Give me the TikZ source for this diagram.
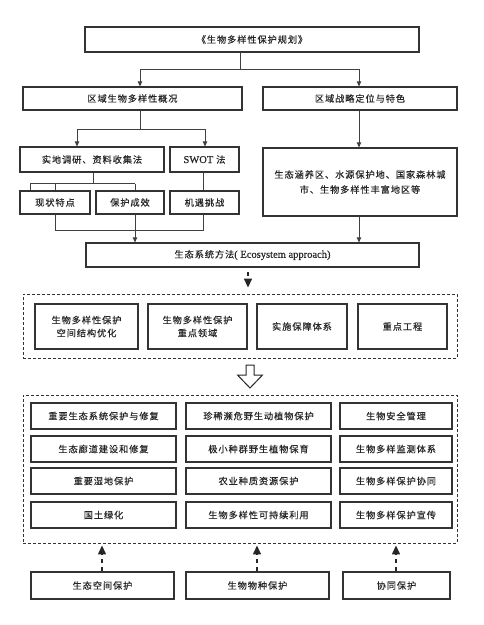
\documentclass[tikz,border=0pt]{standalone}
\usepackage{fontspec}
\setmainfont{Liberation Serif}
\newfontfamily\cjk[LetterSpace=10,FakeBold=0.25]{Noto Sans CJK SC}
\newfontfamily\lat[FakeBold=0.3]{Liberation Serif}
\usetikzlibrary{arrows.meta,calc}
\tikzset{
  box/.style={draw=black!80, line width=1.2pt, inner sep=0pt, align=center, text=black!85,
    font=\cjk\fontsize{9.2}{13}\selectfont},
  dbox/.style={draw=black!80, line width=0.9pt, dash pattern=on 3pt off 2pt, inner sep=0pt},
  ln/.style={draw=black!75, line width=0.8pt},
  arr/.style={ln, -{Triangle[width=4.5pt,length=5pt]}},
  darr/.style={draw=black!85, line width=1.4pt, dash pattern=on 4pt off 4pt,
    -{Triangle[width=8pt,length=9pt]}},
}
\newcommand{\latt}[1]{{\lat\fontsize{10.5}{13}\selectfont #1}}
\newcommand{\mkbox}[7][box]{\node[#1, minimum width={#5-#3}, minimum height={#6-#4}] (#2) at ({(#3+#5)/2},{(#4+#6)/2}) {#7};}
\begin{document}
\begin{tikzpicture}[x=1pt,y=-1pt]
\useasboundingbox[fill=white] (0,0) rectangle (484,625);
% top part
\mkbox{top}{85}{27}{419}{52}{《生物多样性保护规划》}
\mkbox{L1}{23}{87}{242}{110}{区域生物多样性概况}
\mkbox{R1}{263}{87}{457}{110}{区域战略定位与特色}
\mkbox{M1}{20}{147}{164}{172}{实地调研、资料收集法}
\mkbox{M2}{170}{147}{239}{172}{\latt{SWOT} 法}
\mkbox[box,font=\cjk\fontsize{9.2}{15}\selectfont]{RB}{263}{148}{457}{216}{生态涵养区、水源保护地、国家森林城\\市、生物多样性丰富地区等}
\mkbox{S1}{20}{191}{90}{214}{现状特点}
\mkbox{S2}{96}{191}{164}{214}{保护成效}
\mkbox{S3}{170}{191}{239}{214}{机遇挑战}
\mkbox{E}{86}{243}{419}{267}{生态系统方法\latt{( Ecosystem approach)}}
% first dashed group
\mkbox[dbox]{D1}{23}{294}{457}{358}{}
\mkbox{B1}{35}{304}{138}{349}{生物多样性保护\\空间结构优化}
\mkbox{B2}{148}{304}{247}{349}{生物多样性保护\\重点领域}
\mkbox{B3}{257}{304}{347}{349}{实施保障体系}
\mkbox{B4}{358}{304}{447}{349}{重点工程}
% second dashed group
\mkbox[dbox]{D2}{23}{395}{457}{543}{}
\mkbox{C11}{31}{403}{176}{429}{重要生态系统保护与修复}
\mkbox{C12}{186}{403}{331}{429}{珍稀濒危野生动植物保护}
\mkbox{C13}{340}{403}{452}{429}{生物安全管理}
\mkbox{C21}{31}{436}{176}{462}{生态廊道建设和修复}
\mkbox{C22}{186}{436}{331}{462}{极小种群野生植物保育}
\mkbox{C23}{340}{436}{452}{462}{生物多样监测体系}
\mkbox{C31}{31}{468}{176}{494}{重要湿地保护}
\mkbox{C32}{186}{468}{331}{494}{农业种质资源保护}
\mkbox{C33}{340}{468}{452}{494}{生物多样保护协同}
\mkbox{C41}{31}{502}{176}{528}{国土绿化}
\mkbox{C42}{186}{502}{331}{528}{生物多样性可持续利用}
\mkbox{C43}{340}{502}{452}{528}{生物多样保护宣传}
% bottom
\mkbox{G1}{31}{572}{174}{599}{生态空间保护}
\mkbox{G2}{186}{572}{329}{599}{生物物种保护}
\mkbox{G3}{343}{572}{450}{599}{协同保护}
% x helpers
\coordinate (xa) at (240,0);
\coordinate (xb) at (140,0);
\coordinate (xc) at (359,0);
\coordinate (xd) at (77,0);
\coordinate (xe) at (205,0);
\coordinate (xf) at (93,0);
\coordinate (xg) at (30,0);
\coordinate (xh) at (55,0);
\coordinate (xi) at (135,0);
\coordinate (xj) at (203,0);
\coordinate (xk) at (248,0);
\coordinate (xl) at (102,0);
\coordinate (xm) at (257,0);
\coordinate (xn) at (396,0);
% connectors
\draw[ln] (top.south -| xa) -- ++(0,17) coordinate (t1);
\draw[arr] (t1) -| (L1.north -| xb);
\draw[arr] (t1) -| (R1.north -| xc);
\draw[ln] (L1.south -| xb) -- ++(0,19) coordinate (t2);
\draw[arr] (t2) -| (M1.north -| xd);
\draw[arr] (t2) -| (M2.north -| xe);
\draw[arr] (R1.south -| xc) -- (RB.north -| xc);
\draw[ln] (M1.south -| xf) -- ++(0,11) coordinate (t3);
\draw[ln] (t3 -| xg) -- (t3 -| xi);
\draw[ln] (t3 -| xg) -- (S1.north -| xg);
\draw[ln] (t3 -| xh) -- (S1.north -| xh);
\draw[ln] (t3 -| xi) -- (S2.north -| xi);
\draw[ln] (M2.south -| xj) -- (S3.north -| xj);
\draw[ln] (S1.south -| xh) -- ++(0,16) coordinate (t4) -| (S3.south -| xj);
\draw[arr] (S2.south -| xi) -- (E.north -| xi);
\draw[arr] (RB.south -| xc) -- (E.north -| xc);
\draw[darr, shorten <=4pt] (E.south -| xk) -- ($(D1.north -| xk)+(0,-6)$);
% hollow arrow
\draw[draw=black!85, line width=1pt, fill=white, line join=miter]
  (246,365) -- (254,365) -- (254,375) -- (262.5,375) -- (250,388) -- (237.5,375) -- (246,375) -- cycle;
% up arrows
\draw[darr] (G1.north -| xl) -- ($(D2.south -| xl)+(0,2)$);
\draw[darr] (G2.north -| xm) -- ($(D2.south -| xm)+(0,2)$);
\draw[darr] (G3.north -| xn) -- ($(D2.south -| xn)+(0,2)$);
\end{tikzpicture}
\end{document}
